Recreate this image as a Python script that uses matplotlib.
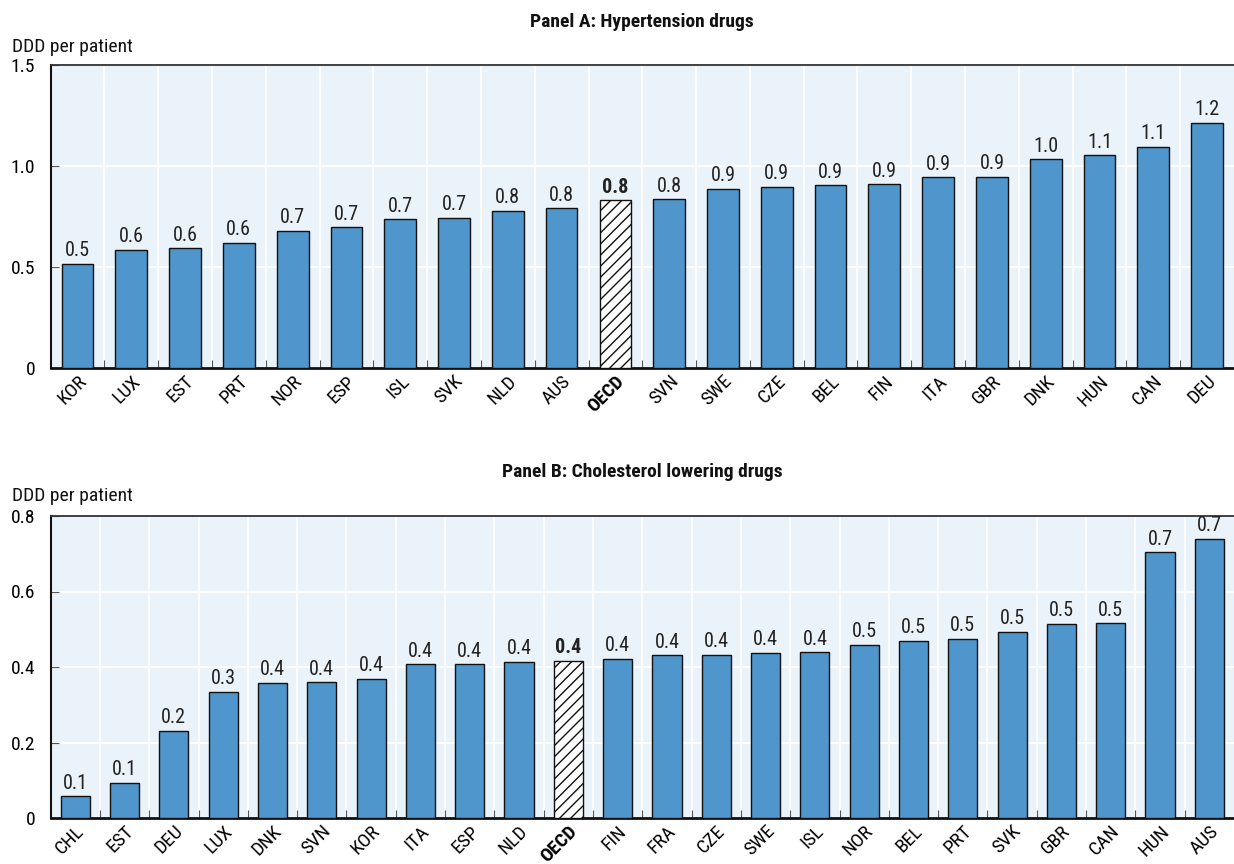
import matplotlib
matplotlib.use("Agg")
import matplotlib.pyplot as plt
from matplotlib import font_manager
import numpy as np

# pick a condensed face if one is installed
names = {f.name for f in font_manager.fontManager.ttflist}
narrow = [n for n in ['Liberation Sans Narrow', 'DejaVu Sans Condensed', 'Roboto Condensed',
                      'Open Sans Condensed'] if n in names]
plt.rcParams['font.family'] = narrow + ['Liberation Sans', 'DejaVu Sans']
plt.rcParams['font.stretch'] = 'condensed'
plt.rcParams['hatch.linewidth'] = 1.0

# Panel A: hypertension drugs
countries_a = ['KOR', 'LUX', 'EST', 'PRT', 'NOR', 'ESP', 'ISL', 'SVK', 'NLD', 'AUS', 'OECD',
               'SVN', 'SWE', 'CZE', 'BEL', 'FIN', 'ITA', 'GBR', 'DNK', 'HUN', 'CAN', 'DEU']
values_a = [0.515, 0.584, 0.592, 0.620, 0.680, 0.696, 0.736, 0.744, 0.777, 0.790, 0.830,
            0.835, 0.886, 0.896, 0.904, 0.909, 0.944, 0.948, 1.033, 1.052, 1.096, 1.214]
yticks_a = [0, 0.5, 1.0, 1.5]
yticklabels_a = ['0', '0.5', '1.0', '1.5']

# Panel B: cholesterol lowering drugs
countries_b = ['CHL', 'EST', 'DEU', 'LUX', 'DNK', 'SVN', 'KOR', 'ITA', 'ESP', 'NLD', 'OECD', 'FIN',
               'FRA', 'CZE', 'SWE', 'ISL', 'NOR', 'BEL', 'PRT', 'SVK', 'GBR', 'CAN', 'HUN', 'AUS']
values_b = [0.057, 0.094, 0.231, 0.334, 0.358, 0.359, 0.368, 0.407, 0.407, 0.414, 0.416, 0.422,
            0.431, 0.433, 0.438, 0.439, 0.459, 0.469, 0.474, 0.494, 0.514, 0.516, 0.704, 0.740]
yticks_b = [0, 0.2, 0.4, 0.6, 0.8]
yticklabels_b = ['0', '0.2', '0.4', '0.6', '0.8']

BAR = '#4E96CB'
BG = '#EAF2FA'

W, H = 1234, 864
fig = plt.figure(figsize=(W / 100, H / 100), dpi=100)


def draw_panel(rect, cats, vals, yticks, ylabels, title, title_y, unit_y):
    ax = fig.add_axes(rect)
    ax.set_facecolor(BG)
    n = len(cats)
    x = np.arange(n)
    for i, (c, v) in enumerate(zip(cats, vals)):
        if c == 'OECD':
            ax.bar(i, v, width=0.59, color='white', edgecolor='#111111',
                   linewidth=1.0, hatch='///', zorder=3)
        else:
            ax.bar(i, v, width=0.59, color=BAR, edgecolor='#111111',
                   linewidth=1.0, zorder=3)
        ax.text(i, v + yticks[-1] * 0.012, f"{v:.1f}", ha='center', va='bottom',
                fontsize=14.5, color='#222222',
                fontweight='bold' if c == 'OECD' else 'normal', zorder=4)

    ax.set_xlim(-0.5, n - 0.5)
    ax.set_ylim(0, yticks[-1])
    ax.set_yticks(yticks)
    ax.set_yticklabels(ylabels, fontsize=14)
    ax.set_xticks(x)
    ax.set_xticklabels(cats, rotation=45, ha='right', va='top',
                       rotation_mode='anchor', fontsize=14)
    for lbl in ax.get_xticklabels():
        if lbl.get_text() == 'OECD':
            lbl.set_fontweight('bold')
    ax.tick_params(axis='x', which='major', length=0, pad=3)
    ax.tick_params(axis='y', direction='in', length=6, width=0.8,
                   color='#555555', pad=11)

    # category separators
    bounds = np.arange(0.5, n - 0.5, 1.0)
    ax.set_xticks(bounds, minor=True)
    ax.tick_params(axis='x', which='minor', direction='in', length=6,
                   width=0.8, color='#555555')
    for b in bounds:
        ax.axvline(b, color='white', linewidth=1.2, zorder=1)
    for t in yticks[1:-1]:
        ax.axhline(t, color='white', linewidth=1.5, zorder=1)

    ax.spines['right'].set_visible(False)
    ax.spines['top'].set_color('#333333')
    ax.spines['top'].set_linewidth(1.3)
    ax.spines['left'].set_color('#111111')
    ax.spines['left'].set_linewidth(1.5)
    ax.spines['bottom'].set_color('#111111')
    ax.spines['bottom'].set_linewidth(2.0)

    fig.text((rect[0] + rect[0] + rect[2]) / 2, 1 - title_y / H, title,
             ha='center', va='center', fontsize=14, fontweight='bold', color='#111111')
    fig.text(12 / W, 1 - unit_y / H, 'DDD per patient', ha='left', va='center',
             fontsize=14, color='#111111')
    return ax


left = 50.6 / W
width = 1 - left
draw_panel([left, 1 - 368 / H, width, (368 - 65) / H], countries_a, values_a,
           yticks_a, yticklabels_a, 'Panel A: Hypertension drugs', 22, 47)
draw_panel([left, 1 - 818 / H, width, (818 - 516) / H], countries_b, values_b,
           yticks_b, yticklabels_b, 'Panel B: Cholesterol lowering drugs', 472, 496)

fig.savefig('out.png', dpi=100)
